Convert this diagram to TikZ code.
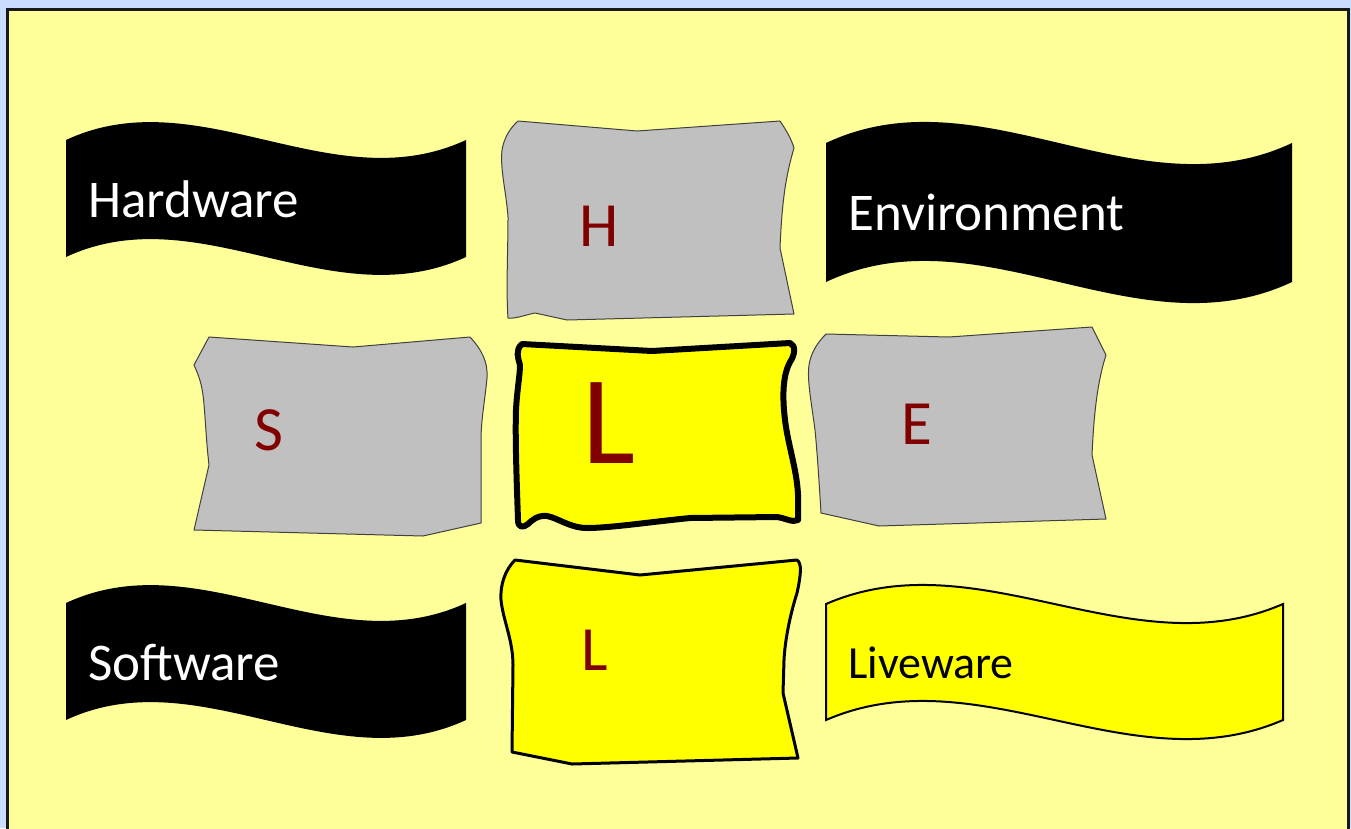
\documentclass[tikz,border=0pt]{standalone}
\usepackage{fontspec}
\setmainfont{Carlito}
\definecolor{bgblue}{HTML}{CADCFF}
\definecolor{panel}{HTML}{FFFF99}
\definecolor{paper}{HTML}{C0C0C0}
\definecolor{lyellow}{HTML}{FFFF00}
\definecolor{maroon}{HTML}{800000}
\tikzset{
  banner/.style={fill=black},
  ybanner/.style={fill=lyellow,draw=black,line width=2pt},
  graypaper/.style={fill=paper,draw=black!75,line width=1pt,line join=round},
  thickpaper/.style={fill=lyellow,draw=black,line width=6pt,line join=round},
  medpaper/.style={fill=lyellow,draw=black,line width=3pt,line join=round},
  wtext/.style={text=white,inner sep=0pt,anchor=base west,font=\fontsize{53}{60}\selectfont},
  btext/.style={text=black,inner sep=0pt,anchor=base west,font=\fontsize{46}{54}\selectfont},
  letter/.style={text=maroon,inner sep=0pt,anchor=base,font=\fontsize{63}{70}\selectfont},
}
\begin{document}
\begin{tikzpicture}[x=1pt,y=-1pt]
\useasboundingbox (0,0) rectangle (1351,828);
\fill[bgblue] (0,0) rectangle (1351,828);
\filldraw[fill=panel,draw=black!90,line width=3pt] (7.5,9.5) rectangle (1348.5,840);

% wave banners
\path[banner] (66,140) .. controls (199,78) and (332,202) .. (466,140)
  -- (466,257) .. controls (332,319) and (199,195) .. (66,257) -- cycle;
\path[banner] (826,143) .. controls (981,70) and (1137,216) .. (1292,143)
  -- (1292,282) .. controls (1137,355) and (981,209) .. (826,282) -- cycle;
\path[banner] (66,603) .. controls (199,541) and (332,665) .. (466,603)
  -- (466,720) .. controls (332,782) and (199,658) .. (66,720) -- cycle;
\path[ybanner] (826,604) .. controls (978,538) and (1131,670) .. (1283,604)
  -- (1283,720) .. controls (1131,786) and (978,654) .. (826,720) -- cycle;

% H paper
\path[graypaper] (518,121) -- (637,131) -- (780,121)
  .. controls (786,130) and (791,138) .. (794,148)
  .. controls (786,175) and (782,200) .. (780,248) -- (794,314) -- (567,320) -- (535,313)
  .. controls (525,315) and (515,319) .. (508,318)
  .. controls (506,290) and (508,250) .. (508,217)
  .. controls (506,190) and (500,170) .. (502,150)
  .. controls (504,138) and (510,128) .. (518,121) -- cycle;
% S paper
\path[graypaper] (209,337) -- (353,347) -- (470,337)
  .. controls (482,350) and (488,362) .. (487,378)
  .. controls (485,400) and (481,420) .. (481,440) -- (481,523) -- (423,536) -- (194,530) -- (209,465)
  .. controls (206,440) and (205,410) .. (203,395)
  .. controls (201,380) and (197,372) .. (194,365) -- cycle;
% E paper
\path[graypaper] (826,334) -- (949,337) -- (1092,327) -- (1106,355)
  .. controls (1098,380) and (1094,410) .. (1092,455) -- (1106,519) -- (879,526) -- (821,513)
  .. controls (819,480) and (817,450) .. (815,430)
  .. controls (811,400) and (807,380) .. (809,365)
  .. controls (811,352) and (818,342) .. (826,334) -- cycle;
% big L paper
\path[thickpaper] (522,344) -- (652,351) -- (790,343)
  .. controls (796,345) and (795,355) .. (790,362)
  .. controls (783,375) and (782,395) .. (785,420)
  .. controls (788,445) and (797,470) .. (798,495) -- (798,520)
  .. controls (793,523) and (785,518) .. (777,517) -- (690,518)
  .. controls (650,522) and (610,528) .. (587,528)
  .. controls (570,528) and (558,518) .. (547,516)
  .. controls (538,515) and (532,520) .. (528,524)
  .. controls (523,528) and (518,528) .. (518,520)
  .. controls (517,490) and (515,440) .. (516,410)
  .. controls (517,390) and (520,375) .. (520,365)
  .. controls (518,358) and (515,350) .. (522,344) -- cycle;
% small L paper
\path[medpaper] (515,560) -- (640,575) -- (797,560)
  .. controls (802,563) and (801,575) .. (797,593)
  .. controls (790,615) and (785,640) .. (784,660) -- (783,693) -- (798,758) -- (572,764) -- (512,752) -- (513,665)
  .. controls (513,640) and (503,620) .. (501,600)
  .. controls (500,585) and (505,570) .. (515,560) -- cycle;

% texts
\node[wtext] (hw) at (88,217) {Hardware};
\node[wtext] (env) at (848,230) {Environment};
\node[wtext] (sw) at (88,680) {Software};
\node[btext] (lw) at (848,678) {Liveware};
\node[letter] (h) at (599,246) {H};
\node[letter] (s) at (269,450) {S};
\node[letter] (e) at (917,444) {E};
\node[letter,font=\fontsize{126}{130}\selectfont] (lbig) at (609,463) {L};
\node[letter] (lsmall) at (595,670) {L};
\end{tikzpicture}
\end{document}
